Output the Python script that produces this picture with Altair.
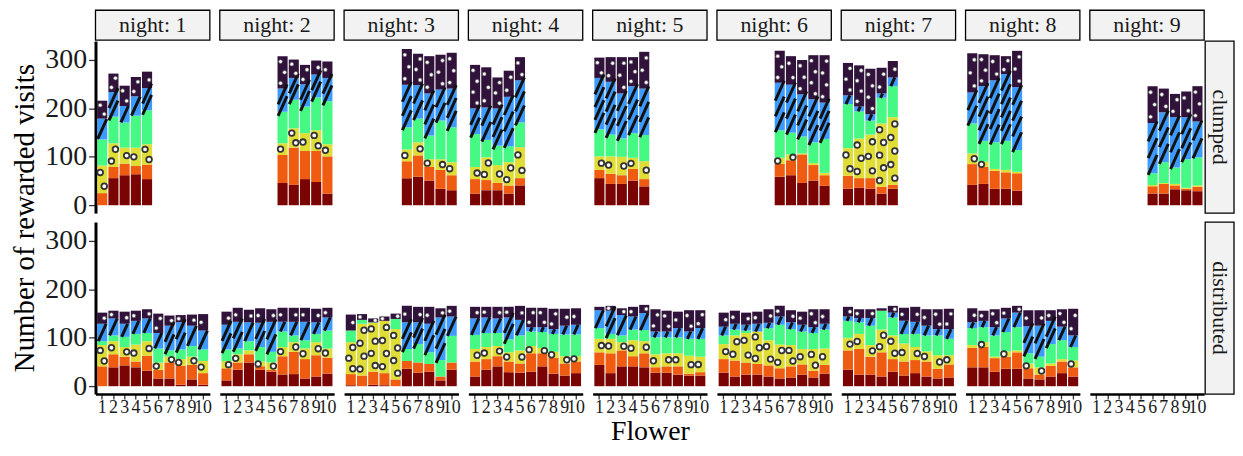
import altair as alt
import pandas as pd

SERIF = "Liberation Serif, Times New Roman, serif"

flowers = list(range(1, 11))
nights = list(range(1, 10))
groups = ["clumped", "distributed"]
categories = ["c1", "c2", "c3", "c4", "c5", "c6"]          # bottom -> top of each stack
palette = ["#7A0403", "#F05B12", "#E1DD37", "#46F884", "#3E9BFE", "#30123B"]

# flowers present in the clumped arrangement, per night
clumped_flowers = [
    [1, 2, 3, 4, 5], [6, 7, 8, 9, 10], [6, 7, 8, 9, 10],
    [1, 2, 3, 4, 5], [1, 2, 3, 4, 5], [6, 7, 8, 9, 10],
    [1, 2, 3, 4, 5], [1, 2, 3, 4, 5], [6, 7, 8, 9, 10],
]

# rewarded visits per flower: [c1, c2, c3, c4, c5, c6]
clumped_n1 = [[0, 25, 57, 54, 43, 37], [56, 23, 49, 55, 51, 38], [62, 24, 33, 52, 34, 42], [64, 17, 38, 66, 40, 40], [54, 30, 42, 70, 46, 34]]
clumped_n2 = [[46, 58, 24, 65, 48, 67], [42, 77, 40, 59, 45, 38], [54, 58, 37, 55, 46, 40], [48, 64, 43, 68, 47, 29], [24, 77, 25, 89, 48, 34]]
clumped_n3 = [[56, 35, 24, 46, 88, 74], [59, 44, 27, 49, 69, 65], [51, 28, 16, 49, 87, 77], [34, 39, 22, 80, 64, 72], [31, 31, 27, 72, 80, 74]]
clumped_n4 = [[24, 30, 25, 68, 53, 90], [31, 21, 47, 36, 67, 83], [31, 15, 37, 40, 77, 64], [24, 17, 48, 33, 102, 54], [41, 15, 64, 51, 87, 48]]
clumped_n5 = [[56, 17, 28, 56, 106, 42], [44, 21, 36, 45, 109, 51], [44, 18, 38, 38, 93, 75], [51, 24, 23, 51, 97, 60], [39, 15, 37, 54, 96, 76]]
clumped_n6 = [[59, 26, 13, 57, 98, 66], [62, 31, 12, 45, 99, 59], [46, 59, 2, 35, 87, 71], [51, 32, 4, 43, 89, 91], [40, 22, 5, 70, 75, 98]]
clumped_n7 = [[34, 27, 57, 91, 18, 67], [36, 20, 82, 56, 10, 85], [34, 22, 90, 29, 13, 94], [24, 14, 131, 53, 9, 53], [34, 8, 140, 64, 18, 34]]
clumped_n8 = [[42, 43, 22, 62, 64, 81], [44, 35, 11, 43, 113, 66], [34, 37, 4, 55, 128, 52], [34, 34, 5, 60, 138, 37], [30, 36, 3, 45, 130, 75]]
clumped_n9 = [[24, 15, 3, 24, 104, 76], [24, 20, 2, 43, 103, 49], [33, 8, 3, 34, 104, 48], [31, 3, 2, 59, 87, 53], [29, 9, 3, 58, 74, 73]]

distributed_n1 = [[0, 41, 44, 8, 36, 23], [39, 27, 27, 12, 35, 16], [43, 18, 20, 21, 27, 25], [39, 12, 35, 22, 27, 21], [32, 31, 30, 17, 30, 19],
                  [16, 18, 15, 29, 32, 40], [16, 33, 12, 13, 51, 21], [3, 39, 14, 20, 56, 15], [14, 30, 17, 22, 42, 23], [3, 24, 25, 24, 39, 34]]
distributed_n2 = [[12, 25, 15, 24, 51, 27], [34, 15, 17, 12, 55, 29], [49, 17, 8, 19, 39, 26], [34, 7, 10, 30, 50, 30], [30, 4, 15, 22, 62, 26],
                  [24, 38, 19, 32, 20, 29], [25, 46, 20, 14, 28, 29], [16, 40, 22, 17, 38, 29], [20, 44, 27, 17, 24, 28], [26, 33, 19, 37, 27, 20]]
distributed_n3 = [[2, 23, 66, 24, 0, 33], [0, 22, 107, 8, 0, 12], [3, 27, 101, 1, 0, 8], [2, 25, 108, 0, 0, 9], [0, 14, 104, 21, 0, 11],
                  [36, 16, 0, 25, 55, 34], [28, 21, 0, 38, 45, 32], [30, 16, 0, 24, 59, 35], [12, 8, 0, 34, 88, 19], [34, 15, 0, 55, 40, 22]]
distributed_n4 = [[20, 31, 26, 29, 34, 24], [34, 22, 25, 29, 32, 22], [41, 21, 21, 27, 30, 24], [29, 22, 19, 27, 45, 22], [28, 19, 27, 31, 32, 29],
                  [30, 38, 15, 30, 9, 40], [41, 27, 11, 33, 10, 40], [26, 33, 12, 37, 10, 42], [22, 25, 15, 45, 18, 35], [27, 24, 11, 45, 20, 34]]
distributed_n5 = [[44, 26, 28, 22, 37, 7], [27, 41, 30, 10, 48, 10], [41, 33, 17, 14, 42, 14], [41, 21, 33, 22, 27, 20], [39, 29, 25, 23, 35, 17],
                  [28, 11, 27, 35, 12, 46], [28, 13, 27, 33, 12, 43], [24, 17, 27, 33, 19, 34], [22, 4, 37, 35, 15, 44], [22, 7, 32, 37, 22, 37]]
distributed_n6 = [[28, 28, 31, 18, 18, 29], [20, 33, 52, 12, 12, 27], [24, 25, 61, 5, 12, 25], [24, 22, 67, 0, 16, 25], [20, 23, 52, 25, 11, 28],
                  [16, 21, 49, 41, 17, 22], [18, 23, 44, 33, 14, 25], [24, 21, 32, 36, 14, 27], [18, 14, 45, 33, 12, 37], [26, 18, 34, 39, 12, 30]]
distributed_n7 = [[34, 40, 26, 35, 9, 20], [24, 53, 31, 24, 9, 18], [24, 37, 24, 40, 16, 18], [20, 50, 47, 39, 0, 5], [30, 26, 49, 37, 10, 14],
                  [22, 29, 37, 20, 27, 27], [27, 27, 27, 27, 25, 31], [20, 31, 21, 33, 20, 34], [16, 20, 28, 41, 13, 41], [18, 27, 19, 34, 20, 42]]
distributed_n8 = [[39, 40, 6, 35, 12, 29], [39, 42, 10, 31, 13, 21], [30, 28, 3, 44, 17, 37], [36, 25, 11, 40, 28, 22], [36, 34, 4, 48, 30, 14],
                  [16, 21, 10, 21, 56, 33], [14, 10, 15, 22, 64, 32], [20, 22, 5, 40, 48, 22], [27, 24, 5, 39, 28, 36], [20, 19, 14, 28, 24, 55]]

clumped = [clumped_n1, clumped_n2, clumped_n3, clumped_n4, clumped_n5, clumped_n6, clumped_n7, clumped_n8, clumped_n9]
distributed = [distributed_n1, distributed_n2, distributed_n3, distributed_n4, distributed_n5, distributed_n6, distributed_n7, distributed_n8]

rows = []
for n, (fl, vals) in enumerate(zip(clumped_flowers, clumped), start=1):
    for f, v in zip(fl, vals):
        for k, (c, x) in enumerate(zip(categories, v)):
            rows.append(dict(night=n, group="clumped", flower=f, cat=c, ord=k, visits=x))
for n, vals in enumerate(distributed, start=1):
    for f, v in zip(flowers, vals):
        for k, (c, x) in enumerate(zip(categories, v)):
            rows.append(dict(night=n, group="distributed", flower=f, cat=c, ord=k, visits=x))
data = pd.DataFrame(rows)

strip_df = pd.DataFrame({"night": nights, "label": [f"night: {n}" for n in nights]})
rstrip_df = pd.DataFrame({"group": groups})

W, H = 115, 173
SH = 30          # drawn strip height
GAP = 9          # gap between the two panel rows
YMIN, YMAX = -16.2, 339.2
K = H / (YMAX - YMIN)

xscale = alt.Scale(domain=flowers, paddingInner=0.1, paddingOuter=0.15)
yscale = alt.Scale(domain=[YMIN, YMAX], nice=False, zero=False)
cscale = alt.Scale(domain=categories, range=palette)


def panel(n, g):
    if n == 1:
        ykw = dict(title=None)
        if g == "clumped":
            ykw = dict(title="Number of rewarded visits", titleFont=SERIF, titleFontSize=29,
                       titleFontWeight="normal", titleColor="black", titleY=H + GAP / 2,
                       titleAlign="center", titleBaseline="bottom", titlePadding=5)
        yaxis = alt.Axis(values=[0, 100, 200, 300], grid=False, labelFont=SERIF,
                         labelFontSize=28, labelColor="#1a1a1a", labelPadding=2, tickSize=7,
                         tickWidth=1.3, tickColor="#333333", domainColor="black", domainWidth=3, **ykw)
    else:
        yaxis = None
    if g == "distributed":
        xaxis = alt.Axis(title="Flower" if n == 5 else None, labelAngle=0, labelFont=SERIF,
                         labelFontSize=18, labelColor="#1a1a1a", labelPadding=0, labelOverlap=False,
                         tickSize=5, tickWidth=1.3, tickColor="#333333", domainColor="black",
                         domainWidth=2.5, titleFont=SERIF, titleFontSize=28, titleFontWeight="normal",
                         titleColor="black", titlePadding=1, grid=False)
    else:
        xaxis = None

    base = (alt.Chart(data)
            .transform_filter(f"datum.night == {n} && datum.group == '{g}'")
            .transform_stack(stack="visits", groupby=["flower"], as_=["y0", "y1"],
                             sort=[alt.SortField("ord", order="ascending")]))

    def X(bp=0.5):
        return alt.X("flower:O", scale=xscale, axis=xaxis, bandPosition=bp)

    def Y(field):
        return alt.Y(field, scale=yscale, axis=yaxis)

    bars = base.mark_bar(strokeWidth=0).encode(
        x=alt.X("flower:O", scale=xscale, axis=xaxis),
        y=Y("y0:Q"), y2="y1:Q",
        color=alt.Color("cat:N", scale=cscale, legend=None))

    def spread(cat, period, minh, cap):
        return (base.transform_filter(f"datum.cat == '{cat}' && datum.visits >= {minh}")
                .transform_calculate(nn=f"max(1, round(datum.visits / {period}))")
                .transform_calculate(idx="sequence(0, datum.nn)")
                .transform_flatten(["idx"])
                .transform_calculate(yc="datum.y0 + (datum.idx + 0.5) * datum.visits / datum.nn",
                                     ss=f"pow(min(datum.visits * {K}, {cap}), 2)"))

    layers = [bars]
    # circles on c3 (yellow)
    yel = spread("c3", 26, 9, 20)
    for par, bp in ((0, 0.3), (1, 0.7)):
        layers.append(yel.transform_filter(f"(datum.idx + datum.flower) % 2 == {par}")
                      .mark_point(shape="circle", filled=True, size=32, fill="white", stroke="#333333",
                                  strokeWidth=1.8, opacity=1)
                      .encode(x=X(bp), y=Y("yc:Q")))
    # stripes on c5 (blue)
    layers.append(spread("c5", 30, 4, 20)
                  .mark_point(shape="M-0.45,1L0.45,-1", filled=False, stroke="#111111", color="#111111",
                              strokeWidth=3, strokeCap="butt", opacity=1)
                  .encode(x=X(0.5), y=Y("yc:Q"), size=alt.Size("ss:Q", scale=None, legend=None)))
    # dots on c6 (dark purple)
    pur = spread("c6", 24, 8, 20)
    for par, bp in ((0, 0.3), (1, 0.7)):
        layers.append(pur.transform_filter(f"(datum.idx + datum.flower) % 2 == {par}")
                      .mark_point(shape="circle", filled=True, size=15, fill="white", stroke="#555555",
                                  strokeWidth=0.7, opacity=1)
                      .encode(x=X(bp), y=Y("yc:Q")))

    if n == 9:
        rb = alt.Chart(rstrip_df).transform_filter(f"datum.group == '{g}'")
        layers.append(rb.mark_rect(fill="#f2f2f2", stroke="black", strokeWidth=1.3).encode(
            x=alt.value(W + 1), x2=alt.value(W + 30), y=alt.value(0), y2=alt.value(H)))
        layers.append(rb.mark_text(angle=90, font=SERIF, fontSize=22, color="#1a1a1a",
                                   align="center", baseline="middle").encode(
            x=alt.value(W + 15.5), y=alt.value(H / 2), text="group:N"))
    return alt.layer(*layers).properties(width=W, height=H)


def top_strip(n):
    b = alt.Chart(strip_df).transform_filter(f"datum.night == {n}")
    r = b.mark_rect(fill="#f2f2f2", stroke="black", strokeWidth=1.3).encode(
        x=alt.value(0), x2=alt.value(W), y=alt.value(0), y2=alt.value(SH))
    t = b.mark_text(font=SERIF, fontSize=22, color="#1a1a1a", align="center", baseline="middle").encode(
        x=alt.value(W / 2), y=alt.value(SH / 2), text="label:N")
    # nominal height is shorter than the drawn strip so that the strip sits 1px above the panels
    return alt.layer(r, t).properties(width=W, height=SH + 1 - GAP)


cells = ([top_strip(n) for n in nights]
         + [panel(n, "clumped") for n in nights]
         + [panel(n, "distributed") for n in nights])

chart = (alt.concat(*cells, columns=9, spacing={"row": GAP, "column": 10}, align="each", bounds="flush")
         .properties(padding={"left": 3, "top": 0, "right": 0, "bottom": -2})
         .configure(font=SERIF, view=alt.ViewConfig(stroke=None)))

chart.save("out.html", embed_options={"renderer": "svg", "actions": False})
